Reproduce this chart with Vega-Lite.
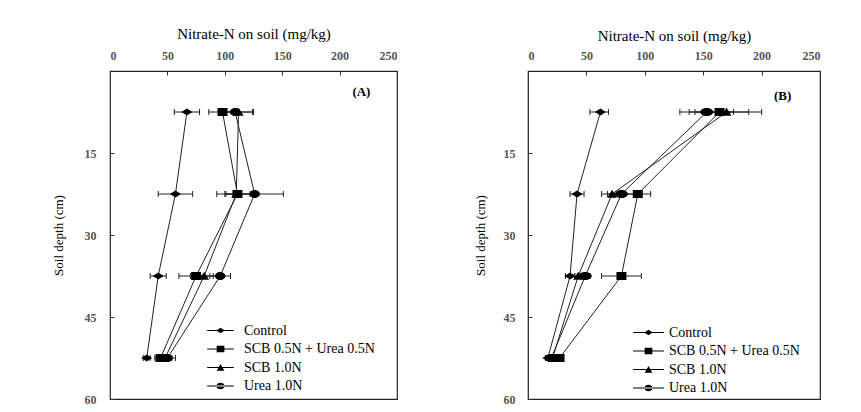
{
  "$schema": "https://vega.github.io/schema/vega-lite/v6.json",
  "padding": {"left": 51, "top": 25, "right": 5, "bottom": 5},
  "background": "white",
  "config": {
    "font": "Liberation Serif",
    "view": {"stroke": "#222", "strokeWidth": 1.2},
    "axis": {
      "grid": false, "domain": false, "tickSize": -4, "tickColor": "#333", "tickWidth": 1,
      "labelFont": "Liberation Serif", "labelFontWeight": "bold", "labelFontSize": 12, "labelColor": "#555",
      "titleFont": "Liberation Serif", "titleFontWeight": "normal", "titleColor": "black"
    },
    "legend": {
      "labelFont": "Liberation Serif", "labelFontSize": 14, "labelColor": "black",
      "rowPadding": 3.5, "labelOffset": 16, "symbolSize": 196, "symbolStrokeWidth": 1,
      "symbolFillColor": "black", "symbolStrokeColor": "black"
    }
  },
  "datasets": {
    "A": [
      {"treatment": "Control", "depth": 7.5, "value": 67, "lo": 56, "hi": 78},
      {"treatment": "Control", "depth": 22.5, "value": 57, "lo": 42, "hi": 72},
      {"treatment": "Control", "depth": 37.5, "value": 42, "lo": 35, "hi": 49},
      {"treatment": "Control", "depth": 52.5, "value": 32, "lo": 29, "hi": 35},
      {"treatment": "SCB 0.5N + Urea 0.5N", "depth": 7.5, "value": 98, "lo": 86, "hi": 110},
      {"treatment": "SCB 0.5N + Urea 0.5N", "depth": 22.5, "value": 111, "lo": 100, "hi": 122},
      {"treatment": "SCB 0.5N + Urea 0.5N", "depth": 37.5, "value": 75, "lo": 60, "hi": 90},
      {"treatment": "SCB 0.5N + Urea 0.5N", "depth": 52.5, "value": 44, "lo": 39, "hi": 49},
      {"treatment": "SCB 1.0N", "depth": 7.5, "value": 112, "lo": 100, "hi": 124},
      {"treatment": "SCB 1.0N", "depth": 22.5, "value": 110, "lo": 93, "hi": 127},
      {"treatment": "SCB 1.0N", "depth": 37.5, "value": 82, "lo": 70, "hi": 94},
      {"treatment": "SCB 1.0N", "depth": 52.5, "value": 48, "lo": 42, "hi": 54},
      {"treatment": "Urea 1.0N", "depth": 7.5, "value": 109, "lo": 95, "hi": 125},
      {"treatment": "Urea 1.0N", "depth": 22.5, "value": 126, "lo": 101, "hi": 151},
      {"treatment": "Urea 1.0N", "depth": 37.5, "value": 96, "lo": 87, "hi": 105},
      {"treatment": "Urea 1.0N", "depth": 52.5, "value": 50, "lo": 44, "hi": 57}
    ],
    "B": [
      {"treatment": "Control", "depth": 7.5, "value": 62, "lo": 53, "hi": 69},
      {"treatment": "Control", "depth": 22.5, "value": 42, "lo": 36, "hi": 48},
      {"treatment": "Control", "depth": 37.5, "value": 36, "lo": 32, "hi": 40},
      {"treatment": "Control", "depth": 52.5, "value": 17, "lo": 15, "hi": 19},
      {"treatment": "SCB 0.5N + Urea 0.5N", "depth": 7.5, "value": 164, "lo": 138, "hi": 189},
      {"treatment": "SCB 0.5N + Urea 0.5N", "depth": 22.5, "value": 94, "lo": 83, "hi": 105},
      {"treatment": "SCB 0.5N + Urea 0.5N", "depth": 37.5, "value": 80, "lo": 63, "hi": 97},
      {"treatment": "SCB 0.5N + Urea 0.5N", "depth": 52.5, "value": 27, "lo": 25, "hi": 29},
      {"treatment": "SCB 1.0N", "depth": 7.5, "value": 170, "lo": 143, "hi": 200},
      {"treatment": "SCB 1.0N", "depth": 22.5, "value": 72, "lo": 63, "hi": 81},
      {"treatment": "SCB 1.0N", "depth": 37.5, "value": 43, "lo": 40, "hi": 46},
      {"treatment": "SCB 1.0N", "depth": 52.5, "value": 21, "lo": 19, "hi": 23},
      {"treatment": "Urea 1.0N", "depth": 7.5, "value": 153, "lo": 130, "hi": 176},
      {"treatment": "Urea 1.0N", "depth": 22.5, "value": 80, "lo": 68, "hi": 92},
      {"treatment": "Urea 1.0N", "depth": 37.5, "value": 49, "lo": 45, "hi": 53},
      {"treatment": "Urea 1.0N", "depth": 52.5, "value": 20, "lo": 18, "hi": 22}
    ]
  },
  "spacing": 74,
  "resolve": {"scale": {"x": "independent", "y": "independent", "shape": "independent"}, "legend": {"shape": "independent"}},
  "hconcat": [
    {
      "width": 287, "height": 328,
      "data": {"name": "A"},
      "resolve": {"scale": {"shape": "independent"}, "legend": {"shape": "independent"}},
      "layer": [
        {
          "mark": {"type": "line", "color": "#222", "strokeWidth": 1},
          "encoding": {
            "x": {"field": "value", "type": "quantitative", "scale": {"domain": [0, 250], "nice": false},
                  "axis": {"orient": "top", "values": [0, 50, 100, 150, 200, 250], "title": "Nitrate-N on soil (mg/kg)", "titleFontSize": 15, "titlePadding": 8, "labelPadding": 13}},
            "y": {"field": "depth", "type": "quantitative", "scale": {"domain": [0, 60], "reverse": true, "nice": false},
                  "axis": {"values": [15, 30, 45, 60], "title": "Soil depth (cm)", "titleFontSize": 13, "titlePadding": 19, "labelPadding": 18}},
            "detail": {"field": "treatment"},
            "order": {"field": "depth"}
          }
        },
        {
          "mark": {"type": "rule", "color": "#222", "strokeWidth": 1},
          "encoding": {
            "x": {"field": "lo", "type": "quantitative"},
            "x2": {"field": "hi"},
            "y": {"field": "depth", "type": "quantitative"}
          }
        },
        {
          "mark": {"type": "tick", "orient": "vertical", "size": 6, "thickness": 1, "color": "#222", "opacity": 1},
          "encoding": {"x": {"field": "lo", "type": "quantitative"}, "y": {"field": "depth", "type": "quantitative"}}
        },
        {
          "mark": {"type": "tick", "orient": "vertical", "size": 6, "thickness": 1, "color": "#222", "opacity": 1},
          "encoding": {"x": {"field": "hi", "type": "quantitative"}, "y": {"field": "depth", "type": "quantitative"}}
        },
        {
          "mark": {"type": "point", "filled": true, "color": "black", "opacity": 1, "size": 25},
          "encoding": {
            "x": {"field": "value", "type": "quantitative"},
            "y": {"field": "depth", "type": "quantitative"},
            "shape": {
              "field": "treatment", "type": "nominal",
              "scale": {
                "domain": ["Control", "SCB 0.5N + Urea 0.5N", "SCB 1.0N", "Urea 1.0N"],
                "range": ["M-2.2,0L0,-1.4L2.2,0L0,1.4Z", "M-2,-1.6L2,-1.6L2,1.6L-2,1.6Z", "M-2,1.5L0,-1.7L2,1.5Z", "M-2.1,0A2.1,1.6 0 1,0 2.1,0A2.1,1.6 0 1,0 -2.1,0Z"]
              },
              "legend": null
            }
          }
        },
        {
          "transform": [{"filter": "false"}],
          "mark": {"type": "point", "filled": true, "color": "black", "fill": "black", "stroke": "black", "strokeWidth": 1, "opacity": 1},
          "encoding": {
            "x": {"field": "value", "type": "quantitative"},
            "y": {"field": "depth", "type": "quantitative"},
            "shape": {
              "field": "treatment", "type": "nominal",
              "scale": {
                "domain": ["Control", "SCB 0.5N + Urea 0.5N", "SCB 1.0N", "Urea 1.0N"],
                "range": [
                  "M-1.9,-0.08L1.9,-0.08L1.9,0.08L-1.9,0.08ZM-0.6,0L0,-0.4L0.6,0L0,0.4Z",
                  "M-1.9,-0.08L1.9,-0.08L1.9,0.08L-1.9,0.08ZM-0.55,-0.45L0.55,-0.45L0.55,0.45L-0.55,0.45Z",
                  "M-1.9,-0.08L1.9,-0.08L1.9,0.08L-1.9,0.08ZM-0.55,0.45L0,-0.5L0.55,0.45Z",
                  "M-1.9,-0.08L1.9,-0.08L1.9,0.08L-1.9,0.08ZM-0.6,0A0.6,0.45 0 1,0 0.6,0A0.6,0.45 0 1,0 -0.6,0Z"
                ]
              },
              "legend": {
                "orient": "none", "legendX": 103, "legendY": 252, "title": null, "labelOffset": 16,
                "encode": {"symbols": {"update": {"fill": {"value": "black"}, "opacity": {"value": 1}}}}
              }
            }
          }
        },
        {
          "data": {"values": [{"label": "(A)", "lx": 219, "ly": 3.8}]},
          "mark": {"type": "text", "fontWeight": "bold", "fontSize": 13, "font": "Liberation Serif", "color": "black"},
          "encoding": {"x": {"field": "lx", "type": "quantitative"}, "y": {"field": "ly", "type": "quantitative"}, "text": {"field": "label"}}
        }
      ]
    },
    {
      "width": 292, "height": 328,
      "data": {"name": "B"},
      "resolve": {"scale": {"shape": "independent"}, "legend": {"shape": "independent"}},
      "layer": [
        {
          "mark": {"type": "line", "color": "#222", "strokeWidth": 1},
          "encoding": {
            "x": {"field": "value", "type": "quantitative", "scale": {"domain": [0, 250], "nice": false},
                  "axis": {"orient": "top", "values": [0, 50, 100, 150, 200, 250], "title": "Nitrate-N on soil (mg/kg)", "titleFontSize": 15, "titlePadding": 6, "labelPadding": 13}},
            "y": {"field": "depth", "type": "quantitative", "scale": {"domain": [0, 60], "reverse": true, "nice": false},
                  "axis": {"values": [15, 30, 45, 60], "title": "Soil depth (cm)", "titleFontSize": 13, "titlePadding": 16, "labelPadding": 17}},
            "detail": {"field": "treatment"},
            "order": {"field": "depth"}
          }
        },
        {
          "mark": {"type": "rule", "color": "#222", "strokeWidth": 1},
          "encoding": {
            "x": {"field": "lo", "type": "quantitative"},
            "x2": {"field": "hi"},
            "y": {"field": "depth", "type": "quantitative"}
          }
        },
        {
          "mark": {"type": "tick", "orient": "vertical", "size": 6, "thickness": 1, "color": "#222", "opacity": 1},
          "encoding": {"x": {"field": "lo", "type": "quantitative"}, "y": {"field": "depth", "type": "quantitative"}}
        },
        {
          "mark": {"type": "tick", "orient": "vertical", "size": 6, "thickness": 1, "color": "#222", "opacity": 1},
          "encoding": {"x": {"field": "hi", "type": "quantitative"}, "y": {"field": "depth", "type": "quantitative"}}
        },
        {
          "mark": {"type": "point", "filled": true, "color": "black", "opacity": 1, "size": 25},
          "encoding": {
            "x": {"field": "value", "type": "quantitative"},
            "y": {"field": "depth", "type": "quantitative"},
            "shape": {
              "field": "treatment", "type": "nominal",
              "scale": {
                "domain": ["Control", "SCB 0.5N + Urea 0.5N", "SCB 1.0N", "Urea 1.0N"],
                "range": ["M-2.2,0L0,-1.4L2.2,0L0,1.4Z", "M-2,-1.6L2,-1.6L2,1.6L-2,1.6Z", "M-2,1.5L0,-1.7L2,1.5Z", "M-2.6,0A2.6,1.6 0 1,0 2.6,0A2.6,1.6 0 1,0 -2.6,0Z"]
              },
              "legend": null
            }
          }
        },
        {
          "transform": [{"filter": "false"}],
          "mark": {"type": "point", "filled": true, "color": "black", "fill": "black", "stroke": "black", "strokeWidth": 1, "opacity": 1},
          "encoding": {
            "x": {"field": "value", "type": "quantitative"},
            "y": {"field": "depth", "type": "quantitative"},
            "shape": {
              "field": "treatment", "type": "nominal",
              "scale": {
                "domain": ["Control", "SCB 0.5N + Urea 0.5N", "SCB 1.0N", "Urea 1.0N"],
                "range": [
                  "M-2.2,-0.08L2.2,-0.08L2.2,0.08L-2.2,0.08ZM-0.6,0L0,-0.4L0.6,0L0,0.4Z",
                  "M-2.2,-0.08L2.2,-0.08L2.2,0.08L-2.2,0.08ZM-0.55,-0.45L0.55,-0.45L0.55,0.45L-0.55,0.45Z",
                  "M-2.2,-0.08L2.2,-0.08L2.2,0.08L-2.2,0.08ZM-0.55,0.45L0,-0.5L0.55,0.45Z",
                  "M-2.2,-0.08L2.2,-0.08L2.2,0.08L-2.2,0.08ZM-0.6,0A0.6,0.45 0 1,0 0.6,0A0.6,0.45 0 1,0 -0.6,0Z"
                ]
              },
              "legend": {
                "orient": "none", "legendX": 113, "legendY": 254, "title": null, "labelOffset": 13,
                "encode": {"symbols": {"update": {"fill": {"value": "black"}, "opacity": {"value": 1}}}}
              }
            }
          }
        },
        {
          "data": {"values": [{"label": "(B)", "lx": 218, "ly": 4.6}]},
          "mark": {"type": "text", "fontWeight": "bold", "fontSize": 13, "font": "Liberation Serif", "color": "black"},
          "encoding": {"x": {"field": "lx", "type": "quantitative"}, "y": {"field": "ly", "type": "quantitative"}, "text": {"field": "label"}}
        }
      ]
    }
  ]
}
